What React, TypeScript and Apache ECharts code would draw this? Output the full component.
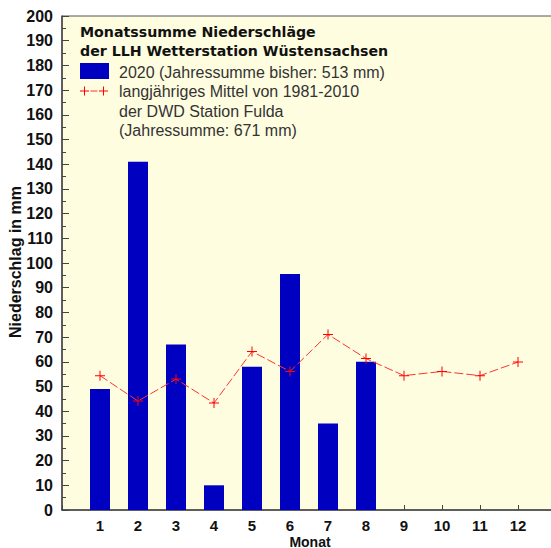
import React, { useEffect, useRef } from "react";
import * as echarts from "echarts";

const months = [1, 2, 3, 4, 5, 6, 7, 8, 9, 10, 11, 12];
const precip2020 = [49, 141, 67, 10, 58, 95.5, 35, 60];
const meanFulda = [54.4, 44.1, 53, 43.3, 64.2, 56.1, 71.1, 61.3, 54.4, 56.1, 54.4, 59.9];
const titleLines = ["Monatssumme Niederschläge", "der LLH Wetterstation Wüstensachsen"];
const barLegend = "2020 (Jahressumme bisher: 513 mm)";
const lineLegend = ["langjähriges Mittel von 1981-2010", "der DWD Station Fulda", "(Jahressumme: 671 mm)"];
const xAxisName = "Monat";
const yAxisName = "Niederschlag in mm";

const FONT = "'Liberation Sans', Arial, Helvetica, sans-serif";
const TFONT = "'DejaVu Sans', Verdana, sans-serif";
const PLUS = "path://M4.5,0h1v4.5h4.5v1h-4.5v4.5h-1v-4.5h-4.5v-1h4.5z";

export default function App() {
  const ref = useRef<HTMLDivElement>(null);
  useEffect(() => {
    if (!ref.current) return;
    const chart = echarts.init(ref.current, null, { renderer: "svg" });
    const graphics: any[] = [];
    const titleY = [32, 50.5];
    titleLines.forEach((t, i) => {
      graphics.push({
        type: "text",
        x: 80,
        y: titleY[i],
        style: { text: t, font: `bold 14.2px ${TFONT}`, fill: "#111", verticalAlign: "middle" },
      });
    });
    graphics.push({
      type: "rect",
      shape: { x: 80, y: 63, width: 29, height: 16 },
      style: { fill: "#0000c0" },
    });
    graphics.push({
      type: "text",
      x: 119,
      y: 72,
      style: { text: barLegend, font: `16px ${FONT}`, fill: "#333", verticalAlign: "middle" },
    });
    const ly = 91;
    [84.5, 103.5].forEach((cx) => {
      graphics.push({ type: "line", shape: { x1: cx - 4.5, y1: ly, x2: cx + 4.5, y2: ly }, style: { stroke: "#ff0000", lineWidth: 1 } });
      graphics.push({ type: "line", shape: { x1: cx, y1: ly - 4.5, x2: cx, y2: ly + 4.5 }, style: { stroke: "#ff0000", lineWidth: 1 } });
    });
    graphics.push({ type: "line", shape: { x1: 90.5, y1: ly, x2: 97.5, y2: ly }, style: { stroke: "#ff3333", lineWidth: 1 } });
    const rowsY = [91, 111, 130.5];
    lineLegend.forEach((t, i) => {
      graphics.push({
        type: "text",
        x: 119,
        y: rowsY[i],
        style: { text: t, font: `16px ${FONT}`, fill: "#333", verticalAlign: "middle" },
      });
    });
    graphics.push({
      type: "text",
      x: 15,
      y: 262,
      rotation: Math.PI / 2,
      style: { text: yAxisName, font: `bold 16px ${FONT}`, fill: "#111", align: "center", verticalAlign: "middle" },
    });
    graphics.push({
      type: "text",
      x: 310,
      y: 541.5,
      style: { text: xAxisName, font: `bold 14px ${FONT}`, fill: "#111", align: "center", verticalAlign: "middle" },
    });

    chart.setOption({
      animation: false,
      backgroundColor: "#ffffff",
      grid: {
        left: 62,
        top: 16,
        right: -5,
        bottom: 38,
        containLabel: false,
        outerBoundsMode: "none",
        show: true,
        backgroundColor: "#fefde0",
        borderColor: "#555",
        borderWidth: 1,
      },
      xAxis: {
        type: "value",
        min: 0,
        max: 13,
        interval: 1,
        axisLine: { show: true, lineStyle: { color: "#444", width: 1.5 } },
        axisTick: { show: true, inside: true, length: 5, lineStyle: { color: "#444" } },
        splitLine: { show: false },
        axisLabel: {
          fontFamily: FONT,
          fontWeight: "bold",
          fontSize: 15,
          color: "#111",
          margin: 8,
          formatter: (v: number) => (v >= 1 && v <= 12 ? String(v) : ""),
        },
      },
      yAxis: {
        type: "value",
        min: 0,
        max: 200,
        interval: 10,
        axisLine: { show: true, lineStyle: { color: "#444", width: 1.5 } },
        axisTick: { show: true, inside: true, length: 7, lineStyle: { color: "#444" } },
        minorTick: { show: true, splitNumber: 2, length: 4, lineStyle: { color: "#444" } },
        splitLine: { show: false },
        axisLabel: {
          fontFamily: FONT,
          fontWeight: "bold",
          fontSize: 16,
          color: "#111",
          margin: 9,
        },
      },
      series: [
        {
          type: "bar",
          data: precip2020.map((v, i) => [months[i], v]),
          barWidth: 20,
          itemStyle: { color: "#0000c0" },
          z: 2,
        },
        {
          type: "line",
          data: meanFulda.map((v, i) => [months[i], v]),
          symbol: PLUS,
          symbolSize: 10,
          itemStyle: { color: "#ff0000" },
          lineStyle: { color: "#ff3333", width: 1, type: [9, 3] },
          z: 3,
        },
      ],
      graphic: graphics,
    });
    return () => chart.dispose();
  }, []);
  return (
    <div
      ref={ref}
      style={{ position: "fixed", left: 0, top: 0, width: 551, height: 548 }}
    />
  );
}
